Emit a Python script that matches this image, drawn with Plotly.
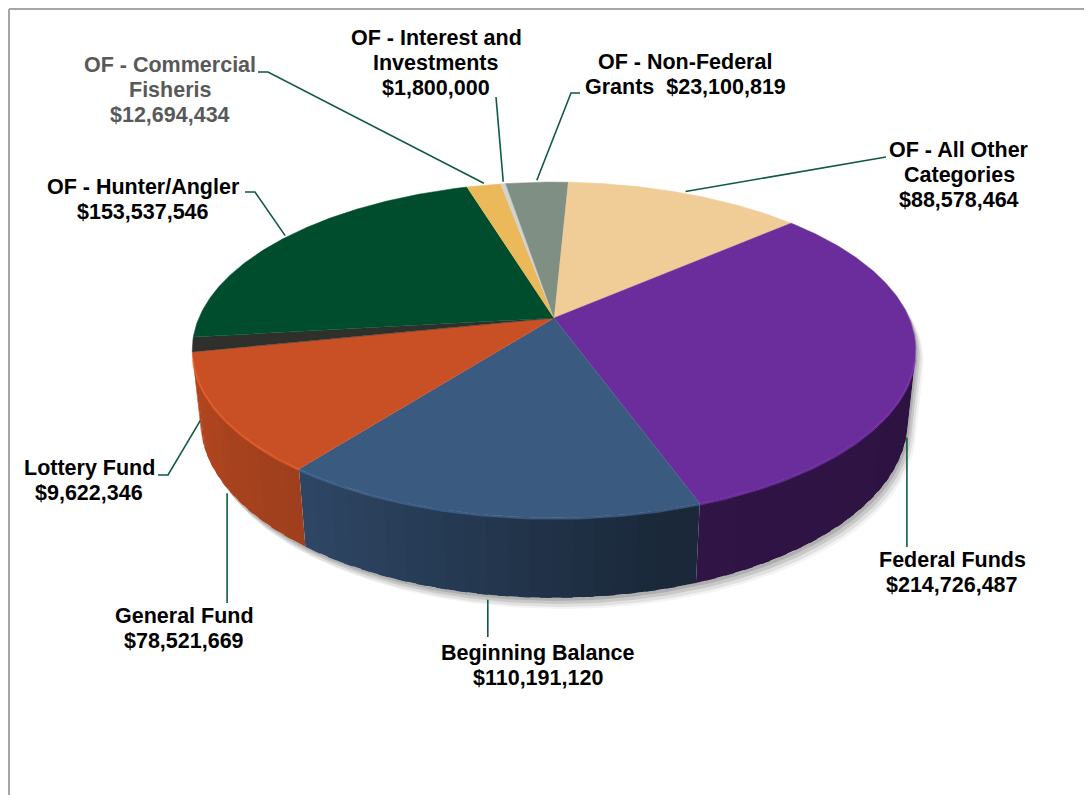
import numpy as np
import plotly.graph_objects as go

# ---------------- data ----------------
categories = ["OF - All Other Categories", "Federal Funds", "Beginning Balance",
              "General Fund", "Lottery Fund", "OF - Hunter/Angler",
              "OF - Commercial Fisheris", "OF - Interest and Investments",
              "OF - Non-Federal Grants"]
values = [88578464, 214726487, 110191120, 78521669, 9622346,
          153537546, 12694434, 1800000, 23100819]
label_lines = [["OF - All Other", "Categories"], ["Federal Funds"], ["Beginning Balance"],
               ["General Fund"], ["Lottery Fund"], ["OF - Hunter/Angler"],
               ["OF - Commercial", "Fisheris"], ["OF - Interest and", "Investments"],
               ["OF - Non-Federal", "Grants"]]
value_on_last_line = [False, False, False, False, False, False, False, False, True]
top_colors = ["#F0CC96", "#6C2D9C", "#3B5A80", "#C95025", "#2F302B",
              "#004D2E", "#EBB95A", "#D2D2D2", "#7F8F84"]
label_colors = ["#000000"] * 6 + ["#595959"] + ["#000000"] * 2

# ---------------- geometry (3D perspective pie) ----------------
CX, CY = 554.0, 318.0
F = 1662.0
D = 4.68
ELEV = np.radians(27.1)
S, C = np.sin(ELEV), np.cos(ELEV)
H = 0.2246
START = 2.7  # degrees, clockwise from 12 o'clock
PAGE_OFF = 8  # browser body margin


def proj(theta_deg, Y=0.0):
    t = np.radians(theta_deg)
    X, Z = np.sin(t), np.cos(t)
    yc = C * Y + S * Z
    zc = D + C * Z - S * Y
    return CX + F * X / zc, CY - F * yc / zc


SIDE_LO = np.degrees(np.arccos(-1.0 / (D * C)))
SIDE_HI = 360 - SIDE_LO


def shade(theta):
    return float(np.interp(theta, [SIDE_LO, 165, 190, 215, SIDE_HI],
                           [0.42, 0.45, 0.62, 0.78, 0.9]))


def scale_color(hexc, f):
    r, g, b = int(hexc[1:3], 16), int(hexc[3:5], 16), int(hexc[5:7], 16)
    return "rgb(%d,%d,%d)" % (min(255, r * f), min(255, g * f), min(255, b * f))


total = float(sum(values))
spans = [v / total * 360 for v in values]
starts = START + np.concatenate([[0], np.cumsum(spans)[:-1]])
ends = starts + np.array(spans)

fig = go.Figure()


def poly(xs, ys, color, opacity=1.0, lw=0.0):
    fig.add_trace(go.Scatter(x=list(xs), y=list(ys), fill="toself", fillcolor=color,
                             mode="lines", line=dict(width=lw, color=color),
                             opacity=opacity, hoverinfo="skip", showlegend=False))


# shadow
back = np.linspace(SIDE_HI, SIDE_LO + 360, 200)
front = np.linspace(SIDE_LO, SIDE_HI, 200)
sx1, sy1 = proj(back, 0.0)
sx2, sy2 = proj(front, -H)
for dx, dy, op in [(2, 3, 0.18), (4, 6, 0.14), (6, 9, 0.10), (8, 11, 0.06)]:
    poly(np.concatenate([sx1, sx2]) + dx, np.concatenate([sy1, sy2]) + dy,
         "rgba(60,60,60,1)", op)
poly(np.concatenate([sx1, sx2]), np.concatenate([sy1, sy2]), "#ffffff")

# side walls (overlapping gradient strips, drawn right-to-left so no seams show)
for i in range(len(values)):
    a0, a1 = max(starts[i], SIDE_LO), min(ends[i], SIDE_HI)
    if a1 <= a0:
        continue
    n = max(1, int(np.ceil((a1 - a0) / 3.0)))
    edges = np.linspace(a0, a1, n + 1)
    for k in range(n):
        hi = a1 if k == n - 1 else min(a1, edges[k + 1] + 1.5)
        th = np.linspace(edges[k], hi, 8)
        xt, yt = proj(th, 0.0)
        xb, yb = proj(th[::-1], -H)
        col = scale_color(top_colors[i], shade((edges[k] + edges[k + 1]) / 2))
        poly(np.concatenate([xt, xb]), np.concatenate([yt, yb]), col)

# top faces
for i in range(len(values)):
    th = np.linspace(starts[i], ends[i], max(3, int(spans[i] / 0.5) + 2))
    xt, yt = proj(th, 0.0)
    poly(np.concatenate([[CX], xt]), np.concatenate([[CY], yt]), top_colors[i], lw=0.5)

# rim highlight on the front edge
for i in range(len(values)):
    a0, a1 = max(starts[i], SIDE_LO), min(ends[i], SIDE_HI)
    if a1 <= a0:
        continue
    th = np.linspace(a0, a1, 60)
    xt, yt = proj(th, 0.0)
    fig.add_trace(go.Scatter(x=xt, y=yt + 1, mode="lines",
                             line=dict(width=2, color=scale_color(top_colors[i], 1.25)),
                             opacity=0.6, hoverinfo="skip", showlegend=False))

# ---------------- labels ----------------
label_pos = [  # center x, first-line y, leader path (None = same x as anchor)
    dict(x=959, y=150, path=[(886, 157)]),
    dict(x=952, y=560, path=[(None, 547)]),
    dict(x=538, y=653, path=[(None, 637)]),
    dict(x=184, y=616, path=[(None, 603)]),
    dict(x=89, y=468, path=[(168, 475), (158, 475)]),
    dict(x=143, y=187, path=[(255, 192), (245, 192)]),
    dict(x=170, y=65, path=[(268, 72), (258, 72)]),
    dict(x=436, y=38, path=[(496, 97)]),
    dict(x=685, y=62, path=[(571, 93), (580, 93)]),
]
LINE_H = 25
leader_color = "#0F5B3C"

for i in range(len(values)):
    mid = (starts[i] + ends[i]) / 2
    if np.cos(np.radians(mid)) < 0:
        ax, ay = proj(mid, -H)
        ay += 5
    else:
        ax, ay = proj(mid, 0.0)
        ay -= 2
    pts = [(ax, ay)] + [((ax if px is None else px), py) for px, py in label_pos[i]["path"]]
    fig.add_trace(go.Scatter(x=[p[0] for p in pts], y=[p[1] for p in pts], mode="lines",
                             line=dict(width=1.6, color=leader_color),
                             hoverinfo="skip", showlegend=False))
    lines = list(label_lines[i])
    vtxt = "${:,}".format(values[i])
    if value_on_last_line[i]:
        lines[-1] = lines[-1] + "\u00a0\u00a0" + vtxt
    else:
        lines.append(vtxt)
    for k, ln in enumerate(lines):
        fig.add_annotation(x=label_pos[i]["x"], y=label_pos[i]["y"] + k * LINE_H,
                           text="<b>" + ln + "</b>", showarrow=False,
                           xanchor="center", yanchor="middle",
                           font=dict(family="Liberation Sans, Arial, sans-serif",
                                     size=21.5, color=label_colors[i]))

# border (top and left frame lines)
fig.add_shape(type="line", x0=PAGE_OFF + 1, y0=PAGE_OFF + 1, x1=1100, y1=PAGE_OFF + 1,
              line=dict(color="#A6A6A6", width=2))
fig.add_shape(type="line", x0=PAGE_OFF + 1, y0=PAGE_OFF + 1, x1=PAGE_OFF + 1, y1=803,
              line=dict(color="#A6A6A6", width=2))

fig.update_layout(width=1092, height=795, margin=dict(l=0, r=0, t=0, b=0),
                  paper_bgcolor="white", plot_bgcolor="white", showlegend=False,
                  xaxis=dict(range=[PAGE_OFF, 1092 + PAGE_OFF], visible=False, fixedrange=True),
                  yaxis=dict(range=[795 + PAGE_OFF, PAGE_OFF], visible=False, fixedrange=True))

fig.write_html("out.html")
